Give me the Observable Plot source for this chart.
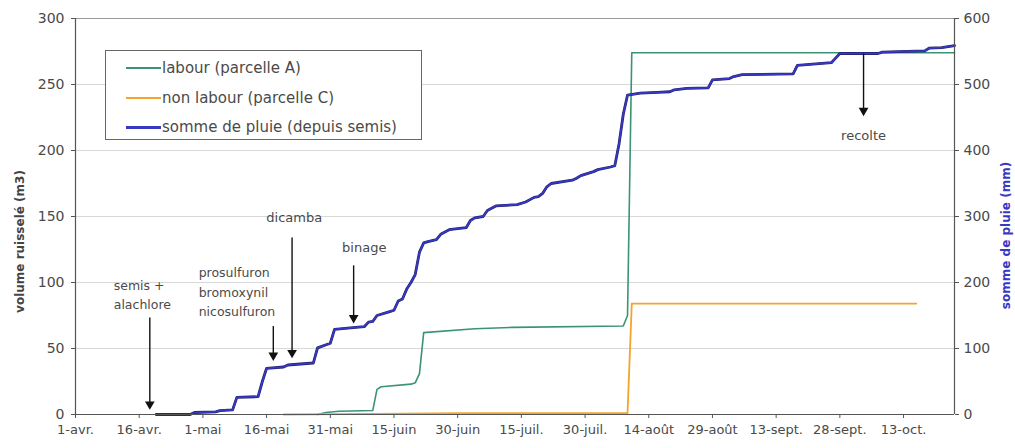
<!DOCTYPE html>
<html>
<head>
<meta charset="utf-8">
<script src="https://cdn.jsdelivr.net/npm/d3@7"></script>
<script src="https://cdn.jsdelivr.net/npm/@observablehq/plot@0.6"></script>
<style>
  html, body { margin: 0; padding: 0; background: #fff; }
  #wrap { position: relative; width: 1015px; height: 448px; font-family: "DejaVu Sans", sans-serif; }
  #legend { position: absolute; left: 105px; top: 50px; width: 315px; height: 88px; border: 1.5px solid #666; background: #fff; }
  .item { position: absolute; left: 20px; height: 20px; display: flex; align-items: center; font-size: 15px; color: #4a4a4a; white-space: nowrap; }
  .item span.sw { display: inline-block; width: 35px; height: 0; border-top-style: solid; margin-right: 1px; }
</style>
</head>
<body>
<div id="wrap"></div>
<script>
// ---- data ----
const tickDates = ["2003-04-01","2003-04-16","2003-05-01","2003-05-16","2003-05-31","2003-06-15","2003-06-30","2003-07-15","2003-07-30","2003-08-14","2003-08-29","2003-09-13","2003-09-28","2003-10-13"];
const tickLabels = ["1-avr.","16-avr.","1-mai","16-mai","31-mai","15-juin","30-juin","15-juil.","30-juil.","14-août","29-août","13-sept.","28-sept.","13-oct."];
const leftTicks = [0, 50, 100, 150, 200, 250, 300];
const rightTicks = [0, 100, 200, 300, 400, 500, 600];
const xDomain = ["2003-04-01", "2003-10-25"];

// somme de pluie (mm), right axis
const rainDates = ["2003-04-20","2003-04-28","2003-04-29","2003-05-04","2003-05-05","2003-05-08","2003-05-09","2003-05-14","2003-05-15","2003-05-16","2003-05-20","2003-05-21","2003-05-27","2003-05-28","2003-05-31","2003-06-01","2003-06-06","2003-06-08","2003-06-09","2003-06-10","2003-06-11","2003-06-14","2003-06-15","2003-06-16","2003-06-17","2003-06-18","2003-06-19","2003-06-20","2003-06-21","2003-06-22","2003-06-23","2003-06-25","2003-06-26","2003-06-28","2003-07-02","2003-07-03","2003-07-04","2003-07-06","2003-07-07","2003-07-09","2003-07-14","2003-07-16","2003-07-18","2003-07-19","2003-07-20","2003-07-21","2003-07-22","2003-07-27","2003-07-28","2003-07-29","2003-08-01","2003-08-02","2003-08-05","2003-08-06","2003-08-07","2003-08-08","2003-08-09","2003-08-12","2003-08-16","2003-08-19","2003-08-20","2003-08-23","2003-08-28","2003-08-29","2003-09-02","2003-09-03","2003-09-05","2003-09-17","2003-09-18","2003-09-26","2003-09-27","2003-09-28","2003-10-07","2003-10-08","2003-10-18","2003-10-19","2003-10-22","2003-10-25"];
const rainMM = [0,0,3,4,6,7,26,27,50,70,72,75,78,101,108,129,132,133,140,141,150,156,158,172,175,190,200,212,246,260,262,265,273,280,283,294,298,300,309,316,318,322,329,330,335,345,350,355,358,362,368,371,375,377,410,455,484,487,488,489,492,494,495,507,509,512,515,516,529,533,540,547,547,549,551,555,556,559];

// labour (parcelle A), m3, left axis
const labourDates = ["2003-05-28","2003-05-30","2003-06-02","2003-06-10","2003-06-11","2003-06-12","2003-06-19","2003-06-20","2003-06-21","2003-06-22","2003-07-04","2003-07-13","2003-08-08","2003-08-09","2003-08-10","2003-10-25"];
const labourM3 = [0,1.5,2.5,3,19,21,23,24,31,62,65,66,67,75,274,274];

// non labour (parcelle C), m3, left axis
const nonLabourDates = ["2003-05-20","2003-06-10","2003-07-01","2003-08-09","2003-08-10","2003-10-16"];
const nonLabourM3 = [0,0.5,1,1,84,84];

// annotations (date, value on left axis)
const annotLabels = ["semis +\nalachlore", "prosulfuron\nbromoxynil\nnicosulfuron", "dicamba", "binage", "recolte"];
const annotTextDates = ["2003-04-10","2003-04-30","2003-05-22T12:00Z","2003-06-08","2003-10-03T14:00Z"];
const annotTextY = [92, 94, 149, 126.5, 211];
const annotAnchor = ["start", "start", "middle", "middle", "middle"];
const arrowDates = ["2003-04-18T12:00Z","2003-05-17T14:00Z","2003-05-22","2003-06-05T12:00Z","2003-10-03T14:00Z"];
const arrowFrom = [73.5, 67, 134, 113, 273.5];
const arrowTo = [5.5, 42.5, 44.5, 71, 228];

// legend
const seriesNames = ["labour (parcelle A)", "non labour (parcelle C)", "somme de pluie (depuis semis)"];
const seriesColors = ["#3a9474", "#f2a52a", "#3838c4"];

// ---- build ----
const P = s => new Date(s.length === 10 ? s + "T00:00Z" : s);
const rain = rainDates.map((d, i) => ({date: P(d), v: rainMM[i]}));
const labour = labourDates.map((d, i) => ({date: P(d), v: labourM3[i]}));
const nonLabour = nonLabourDates.map((d, i) => ({date: P(d), v: nonLabourM3[i]}));
const annots = annotLabels.map((t, i) => ({
  label: t, tx: P(annotTextDates[i]), ty: annotTextY[i], anchor: annotAnchor[i],
  ax: P(arrowDates[i]), a1: arrowFrom[i], a2: arrowTo[i]
}));
const labelMap = new Map(tickDates.map((d, i) => [+P(d), tickLabels[i]]));
const x0 = P(xDomain[0]), x1 = P(xDomain[1]);

const chart = Plot.plot({
  width: 1015, height: 448,
  marginLeft: 75, marginRight: 61, marginTop: 18, marginBottom: 34,
  style: {fontFamily: "DejaVu Sans, sans-serif", background: "#fff", overflow: "visible"},
  x: {type: "utc", domain: [x0, x1]},
  y: {domain: [0, 300]},
  marks: [
    Plot.ruleY(leftTicks.filter(v => v > 0 && v < 300), {stroke: "#d8d8d8", strokeWidth: 1}),
    Plot.ruleY([300], {stroke: "#9a9a9a", strokeWidth: 1.2}),
    Plot.line(labour, {x: "date", y: "v", stroke: seriesColors[0], strokeWidth: 1.6}),
    Plot.line(nonLabour, {x: "date", y: "v", stroke: seriesColors[1], strokeWidth: 1.8}),
    Plot.line(rain, {x: "date", y: d => d.v / 2, stroke: "#22226e", strokeWidth: 2.8}),
    Plot.line(rain, {x: "date", y: d => d.v / 2, stroke: seriesColors[2], strokeWidth: 1.7}),
    Plot.ruleY([0], {stroke: "#555", strokeWidth: 1.2}),
    Plot.ruleX([x0], {stroke: "#555", strokeWidth: 1.2}),
    Plot.ruleX([x1], {stroke: "#555", strokeWidth: 1.2}),
    Plot.axisX({ticks: tickDates.map(P), tickFormat: d => labelMap.get(+d), tickSize: 4, tickPadding: 6, fontSize: 13, fill: "#4a4a4a", stroke: "#555", label: null}),
    Plot.axisY({ticks: leftTicks, tickSize: 4, tickPadding: 7, fontSize: 14, fill: "#4a4a4a", stroke: "#555", label: null}),
    Plot.axisY({anchor: "right", ticks: rightTicks.map(v => v / 2), tickFormat: d => String(d * 2), tickSize: 4, tickPadding: 5, fontSize: 14, fill: "#4a4a4a", stroke: "#555", label: null}),
    // annotations
    Plot.link(annots, {x1: "ax", x2: "ax", y1: "a1", y2: d => d.a2, stroke: "#111", strokeWidth: 1.4}),
    Plot.dot(annots, {x: "ax", y: "a2", symbol: "triangle", rotate: 180, r: 3.6, fill: "#111", stroke: null, dy: -3}),
    Plot.text(annots.filter(d => d.anchor === "start"), {x: "tx", y: "ty", text: "label", textAnchor: "start", fontSize: 12.5, lineHeight: 1.55, fill: "#4a4a4a"}),
    Plot.text(annots.filter(d => d.anchor === "middle"), {x: "tx", y: "ty", text: "label", textAnchor: "middle", fontSize: 13, fill: "#4a4a4a"}),
    // axis titles
    Plot.text(["volume ruisselé (m3)"], {frameAnchor: "left", textAnchor: "middle", dx: -55, dy: 25, rotate: -90, fontSize: 12, fontWeight: "bold", fill: "#444"}),
    Plot.text(["somme de pluie (mm)"], {frameAnchor: "right", textAnchor: "middle", dx: 52, dy: 19, rotate: -90, fontSize: 12, fontWeight: "bold", fill: "#3838c4"})
  ]
});

const wrap = document.getElementById("wrap");
wrap.appendChild(chart);

const legend = document.createElement("div");
legend.id = "legend";
const rowsY = [17, 46.5, 76];
seriesNames.forEach((name, i) => {
  const it = document.createElement("div");
  it.className = "item";
  it.style.top = (rowsY[i] - 10) + "px";
  const sw = document.createElement("span");
  sw.className = "sw";
  sw.style.borderTopColor = seriesColors[i];
  sw.style.borderTopWidth = i === 2 ? "3px" : "2px";
  it.appendChild(sw);
  it.appendChild(document.createTextNode(name));
  legend.appendChild(it);
});
wrap.appendChild(legend);
</script>
</body>
</html>
